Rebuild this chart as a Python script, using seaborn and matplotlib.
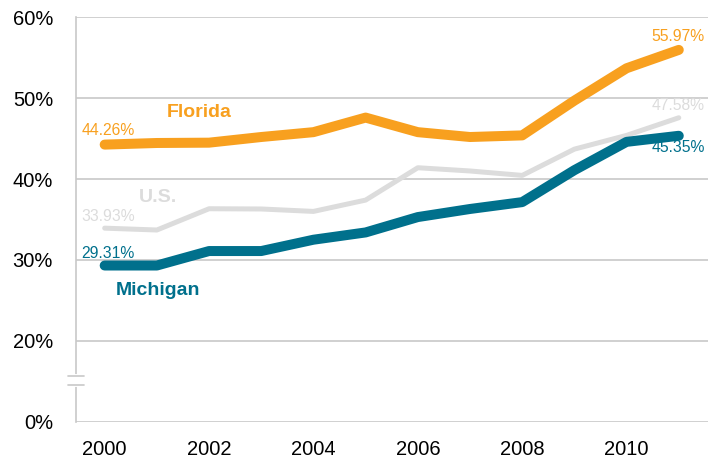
import pandas as pd
import seaborn as sns
import matplotlib.pyplot as plt
import matplotlib.transforms as mtransforms

# Data (percent)
years = list(range(2000, 2012))
florida = [44.26, 44.46, 44.5, 45.2, 45.8, 47.6, 45.8, 45.2, 45.4, 49.7, 53.7, 55.97]
us = [33.93, 33.7, 36.33, 36.3, 36.0, 37.4, 41.4, 41.0, 40.45, 43.7, 45.4, 47.58]
michigan = [29.31, 29.31, 31.1, 31.1, 32.5, 33.4, 35.3, 36.3, 37.15, 41.1, 44.6, 45.35]

x_ticks = [2000, 2002, 2004, 2006, 2008, 2010]
y_ticks = [10, 20, 30, 40, 50, 60]           # bottom tick shown as 0% (broken axis)
y_labels = ["0%", "20%", "30%", "40%", "50%", "60%"]

orange = "#F8A01F"
teal = "#00708C"
gray = "#DCDCDC"
grid_c = "#C8C8C8"

df = pd.DataFrame({"year": years, "Florida": florida, "U.S.": us, "Michigan": michigan})

sns.set_style("white")
plt.rcParams["font.family"] = ["Liberation Sans", "DejaVu Sans"]

fig = plt.figure(figsize=(7.08, 4.58), dpi=100)
ax = fig.add_axes([0.1073, 0.0793, 0.8927, 0.8829])

sns.lineplot(data=df, x="year", y="U.S.", color=gray, linewidth=3.6,
             solid_capstyle="round", ax=ax, zorder=3)
sns.lineplot(data=df, x="year", y="Michigan", color=teal, linewidth=7.2,
             solid_capstyle="round", ax=ax, zorder=4)
sns.lineplot(data=df, x="year", y="Florida", color=orange, linewidth=7.2,
             solid_capstyle="round", ax=ax, zorder=5)

ax.set_xlim(1999.45, 2011.56)
ax.set_ylim(10, 60)
ax.set_xticks(x_ticks)
ax.set_yticks(y_ticks)
ax.set_yticklabels(y_labels)
ax.set_xlabel("")
ax.set_ylabel("")
ax.tick_params(axis="both", length=0, labelsize=14.5, colors="black")
ax.tick_params(axis="y", pad=16.5)
ax.tick_params(axis="x", pad=13)

for y in y_ticks:
    ax.axhline(y, color=grid_c, linewidth=1.2, zorder=1)

for s in ["top", "right", "bottom"]:
    ax.spines[s].set_visible(False)
ax.spines["left"].set_color(grid_c)
ax.spines["left"].set_linewidth(1.2)

# axis break marks
trans = mtransforms.blended_transform_factory(ax.transAxes, ax.transData)
ax.plot([0, 0], [14.5, 15.7], color="white", linewidth=3, transform=trans, clip_on=False, zorder=6)
for yb in [14.5, 15.7]:
    ax.plot([-0.013, 0.013], [yb, yb], color=grid_c, linewidth=1.2, transform=trans,
            clip_on=False, zorder=7)

# value labels
lab = dict(fontsize=11.3)
ax.text(1999.55, florida[0] + 1.8, f"{florida[0]:.2f}%", color=orange, ha="left", va="center", **lab)
ax.text(1999.55, us[0] + 1.5, f"{us[0]:.2f}%", color=gray, ha="left", va="center", **lab)
ax.text(1999.55, michigan[0] + 1.5, f"{michigan[0]:.2f}%", color=teal, ha="left", va="center", **lab)
ax.text(2011.5, florida[-1] + 1.6, f"{florida[-1]:.2f}%", color=orange, ha="right", va="center", **lab)
ax.text(2011.5, us[-1] + 1.5, f"{us[-1]:.2f}%", color=gray, ha="right", va="center", **lab)
ax.text(2011.5, michigan[-1] - 1.5, f"{michigan[-1]:.2f}%", color=teal, ha="right", va="center", **lab)

# series names
name = dict(fontsize=14, fontweight="bold", ha="left", va="center")
ax.text(2001.18, 48.2, "Florida", color=orange, **name)
ax.text(2000.66, 37.7, "U.S.", color=gray, **name)
ax.text(2000.22, 26.2, "Michigan", color=teal, **name)

plt.savefig("out.png", dpi=100)
